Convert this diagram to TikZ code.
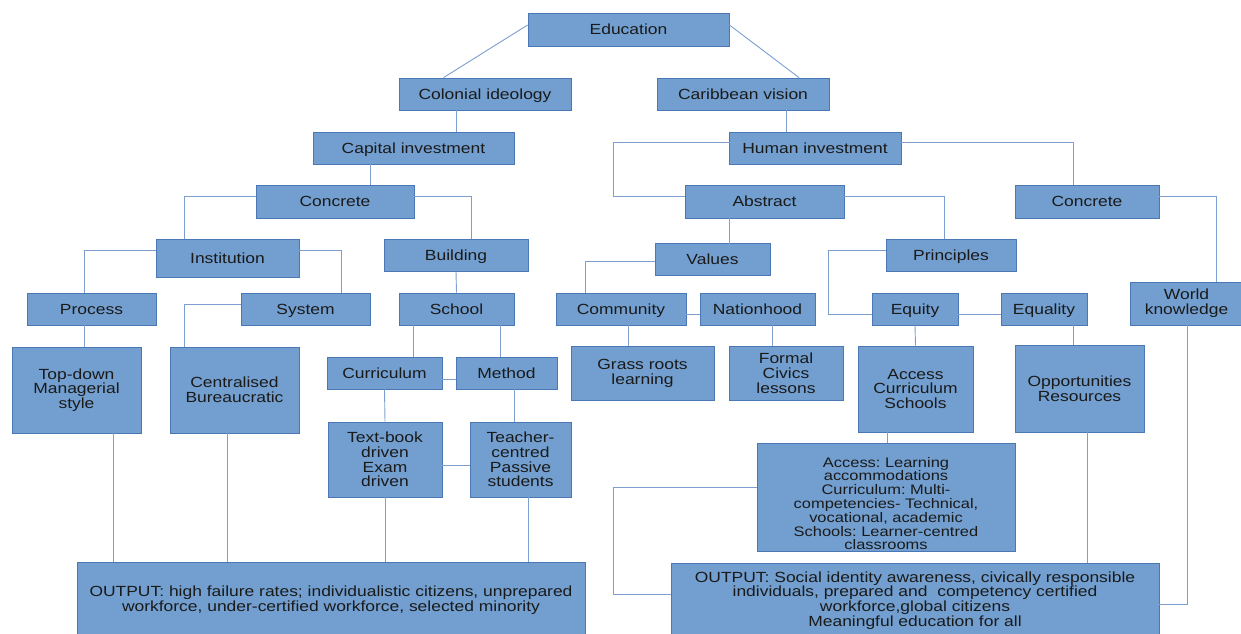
\documentclass[tikz,border=0pt]{standalone}
\usepackage{fontspec}
\setmainfont{Liberation Sans}[FakeStretch=1.187]
\definecolor{boxfill}{HTML}{729FCF}
\definecolor{boxline}{HTML}{4A78B5}
\definecolor{conn}{HTML}{7C9FD0}
\definecolor{txt}{HTML}{1A1A1A}
\tikzset{
  box/.style={draw=boxline, line width=0.8pt, fill=boxfill, inner sep=0pt, align=center,
    text=txt, font=\fontsize{14.7}{14.8}\selectfont\frenchspacing},
  box1/.style={box, text height=10.5pt, text depth=0pt},
  sz/.style 2 args={minimum width=#1pt, minimum height=#2pt},
  lnk/.style={draw=conn, line width=0.9pt},
  smalltxt/.style={inner sep=0pt, align=center, text=txt, font=\fontsize{13.85}{13.8}\selectfont\frenchspacing}
}
\begin{document}
\begin{tikzpicture}[x=1pt,y=-1pt]
\useasboundingbox (0,0) rectangle (1241,633);
\clip (0,0) rectangle (1241,633);

\node[box1, sz={201}{33}] (edu) at (628.5,29.5) {Education};
\node[box1, sz={172}{32}] (colo) at (485,94) {Colonial ideology};
\node[box1, sz={172}{32}] (carib) at (743,94) {Caribbean vision};
\node[box1, sz={201}{32}] (capital) at (413.5,148) {Capital investment};
\node[box1, sz={172}{32}] (human) at (815,148) {Human investment};
\node[box1, sz={158}{33}] (concL) at (335,201.5) {Concrete};
\node[box1, sz={159}{33}] (abstract) at (764.5,201.5) {Abstract};
\node[box1, sz={144}{33}] (concR) at (1087,201.5) {Concrete};
\node[box1, sz={143}{38}] (institution) at (227.5,258) {Institution};
\node[box1, sz={144}{32}] (building) at (456,255) {Building};
\node[box1, sz={115}{32}] (values) at (712.5,259) {Values};
\node[box1, sz={130}{32}] (principles) at (951,255) {Principles};
\node[box, sz={113}{43}] (world) at (1186.5,303.5) {World\\knowledge};
\node[box1, sz={129}{32}] (process) at (91.5,309) {Process};
\node[box1, sz={129}{32}] (system) at (305.5,309) {System};
\node[box1, sz={115}{32}] (school) at (456.5,309) {School};
\node[box1, sz={130}{32}] (community) at (621,309) {Community};
\node[box1, sz={115}{32}] (nationhood) at (757.5,309) {Nationhood};
\node[box1, sz={86}{32}] (equity) at (915,309) {Equity};
\node[box1, sz={86}{32}] (equality) at (1044,309) {Equality};
\node[box, sz={129}{86}] (topdown) at (76.5,390) {Top-down\\Managerial\\style};
\node[box, sz={129}{86}] (central) at (234.5,390) {Centralised\\Bureaucratic};
\node[box1, sz={115}{32}] (curric) at (384.5,373) {Curriculum};
\node[box1, sz={101}{32}] (method) at (506.5,373) {Method};
\node[box, sz={143}{54}] (grass) at (642.5,373) {Grass roots\\learning};
\node[box, sz={114}{54}] (formal) at (786,373) {Formal\\Civics\\lessons};
\node[box, sz={115}{86}] (accessB) at (915.5,389) {Access\\Curriculum\\Schools};
\node[box, sz={129}{87}] (opport) at (1079.5,388.5) {Opportunities\\Resources};
\node[box, sz={114}{75}] (textbook) at (385,459.5) {Text-book\\driven\\Exam\\driven};
\node[box, sz={101}{75}] (teacher) at (520.5,459.5) {Teacher-\\centred\\Passive\\students};
\node[box, sz={258}{108}] (big) at (886,497) {};
\node[smalltxt] (bigtext) at ([yshift=-6.5pt]big.center) {Access: Learning\\accommodations\\Curriculum: Multi-\\competencies- Technical,\\vocational, academic\\Schools: Learner-centred\\classrooms};
\node[box, sz={508}{76}] (outL) at (331,600) {OUTPUT: high failure rates; individualistic citizens, unprepared\\workforce, under-certified workforce, selected minority};
\node[box, sz={488}{75}] (outR) at (915,600.5) {OUTPUT: Social identity awareness, civically responsible\\individuals, prepared and~ competency certified\\workforce,global citizens\\Meaningful education for all};

% connectors
\draw[lnk] ([yshift=4.5pt]edu.west) -- ([xshift=-41.5pt]colo.north);
\draw[lnk] ([yshift=4.5pt]edu.east) -- ([xshift=56pt]carib.north);
\draw[lnk] ([xshift=-28.5pt]colo.south) -- ([xshift=43pt]capital.north);
\draw[lnk] ([xshift=43pt]carib.south) -- ([xshift=-29pt]human.north);
\draw[lnk] ([xshift=-43.5pt]capital.south) -- ([xshift=35pt]concL.north);
\draw[lnk] ([shift={(12pt,6pt)}]human.west) -- ++(-127pt,0pt) |- ([yshift=5.5pt]abstract.west);
\draw[lnk] ([yshift=6pt]human.east) -| ([xshift=-14pt]concR.north);
\draw[lnk] ([yshift=5.5pt]concL.west) -| ([xshift=-43.5pt]institution.north);
\draw[lnk] ([yshift=5.5pt]concL.east) -| ([xshift=15pt]building.north);
\draw[lnk] ([xshift=-35.5pt]abstract.south) -- ([xshift=16.5pt,yshift=-7pt]values.north);
\draw[lnk] ([yshift=5.5pt]abstract.east) -| ([xshift=-7pt]principles.north);
\draw[lnk] ([yshift=5.5pt]concR.east) -| ([xshift=29.5pt]world.north);
\draw[lnk] ([yshift=8pt]institution.west) -| ([xshift=-7.5pt]process.north);
\draw[lnk] ([yshift=8pt]institution.east) -| ([xshift=36pt]system.north);
\draw[lnk] (building.south) -- (school.north);
\draw[lnk] ([yshift=-2pt]values.west) -| ([xshift=-35.5pt]community.north);
\draw[lnk] ([yshift=5pt]principles.west) -- ++(-57pt,0pt) |- ([yshift=-5pt]equity.west);
\draw[lnk] ([yshift=-5pt]community.east) -- ([yshift=-5pt]nationhood.west);
\draw[lnk] ([yshift=-5pt]equity.east) -- ([yshift=-5pt]equality.west);
\draw[lnk] ([xshift=-7.5pt]process.south) -- ([xshift=7.5pt]topdown.north);
\draw[lnk] ([yshift=5pt]system.west) -| ([xshift=-50.5pt]central.north);
\draw[lnk] ([xshift=-43.5pt]school.south) -- ([xshift=28.5pt]curric.north);
\draw[lnk] ([xshift=43.5pt]school.south) -- ([xshift=-6.5pt]method.north);
\draw[lnk] ([yshift=-6pt]curric.east) -- ([yshift=-6pt]method.west);
\draw[lnk] (curric.south) -- (textbook.north);
\draw[lnk] ([xshift=7.5pt]method.south) -- ([xshift=-6.5pt]teacher.north);
\draw[lnk] ([yshift=-5.5pt]textbook.east) -- ([yshift=-5.5pt]teacher.west);
\draw[lnk] ([xshift=7.5pt]community.south) -- ([xshift=-14pt]grass.north);
\draw[lnk] ([xshift=14.5pt]nationhood.south) -- ([xshift=-14pt]formal.north);
\draw[lnk] (equity.south) -- (accessB.north);
\draw[lnk] ([xshift=29pt]equality.south) -- ([xshift=-6.5pt]opport.north);
\draw[lnk] ([xshift=36.5pt]topdown.south) -- ([xshift=-218pt]outL.north);
\draw[lnk] ([xshift=-7.5pt]central.south) -- ([xshift=-104pt]outL.north);
\draw[lnk] (textbook.south) -- ([xshift=54pt]outL.north);
\draw[lnk] ([xshift=7.5pt]teacher.south) -- ([xshift=197pt]outL.north);
\draw[lnk] ([xshift=-28.5pt]accessB.south) -- ([xshift=1pt]big.north);
\draw[lnk] ([yshift=10pt]big.west) -- ++(-143pt,0pt) |- ([yshift=6.5pt]outR.west);
\draw[lnk] ([xshift=7.5pt]opport.south) -- ([xshift=172pt]outR.north);
\draw[lnk] ([xshift=0.5pt]world.south) |- ([yshift=-3.5pt]outR.east);
\end{tikzpicture}
\end{document}
